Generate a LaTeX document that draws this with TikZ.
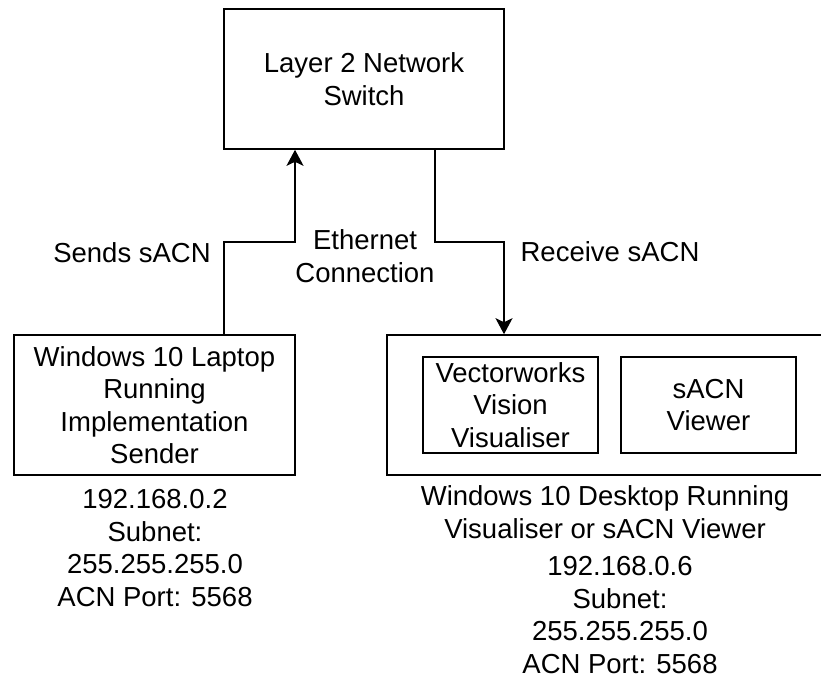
\documentclass[tikz,border=0pt]{standalone}
\usepackage{fontspec}
\setmainfont{Liberation Sans}
\usetikzlibrary{arrows.meta}

\tikzset{
  box/.style={draw, line width=1.6pt, align=center, inner sep=0pt},
  lbl/.style={align=center, inner sep=0pt},
  wire/.style={line width=1.6pt},
  sendarrow/.style={wire, -{Stealth[length=16pt,width=17pt,inset=4pt]}}
}

\begin{document}
\begin{tikzpicture}[x=1pt,y=-1pt,font=\fontsize{27.5}{32.5}\selectfont]
	\useasboundingbox (0,0) rectangle (821,677);
	
	% Network switch at the top
	\node[box, minimum width=280pt, minimum height=140pt] (switch) at (364,79) {Layer 2 Network\\Switch};
	
	% Laptop sending
	\node[box, minimum width=281pt, minimum height=140pt] (laptop) at (154.5,405) {Windows 10 Laptop\\Running\\Implementation\\Sender};
	\node[lbl] (laptopip) at (155,548) {192.168.0.2\\Subnet:\\255.255.255.0\\ACN Port: 5568};
	
	% Desktop receiving, with its two programs
	\node[box, minimum width=436pt, minimum height=140pt] (desktop) at (605,405) {};
	\node[box, minimum width=175pt, minimum height=96pt] (vision) at (510.5,405) {Vectorworks\\Vision\\Visualiser};
	\node[box, minimum width=175pt, minimum height=96pt] (viewer) at (708.5,405) {sACN\\Viewer};
	\node[lbl] (desktopcap) at (605,512) {Windows 10 Desktop Running\\Visualiser or sACN Viewer};
	\node[lbl] (desktopip) at (620,615) {192.168.0.6\\Subnet:\\255.255.255.0\\ACN Port: 5568};
	
	% Ethernet wires
	\coordinate (sendlow) at (224,242);
	\coordinate (sendhigh) at (295,242);
	\coordinate (recvhigh) at (435,242);
	\coordinate (recvlow) at (504,242);
	\draw[sendarrow] (laptop.north -| sendlow) -- (sendlow) -- (sendhigh) -- (switch.south -| sendhigh);
	\draw[sendarrow] (switch.south -| recvhigh) -- (recvhigh) -- (recvlow) -- (desktop.north -| recvlow);
	
	% Wire labels
	\node[lbl] (sends) at (132,253) {Sends sACN};
	\node[lbl] (ether) at (365,256) {Ethernet\\Connection};
	\node[lbl] (recv) at (610,252) {Receive sACN};
	
\end{tikzpicture}
\end{document}
